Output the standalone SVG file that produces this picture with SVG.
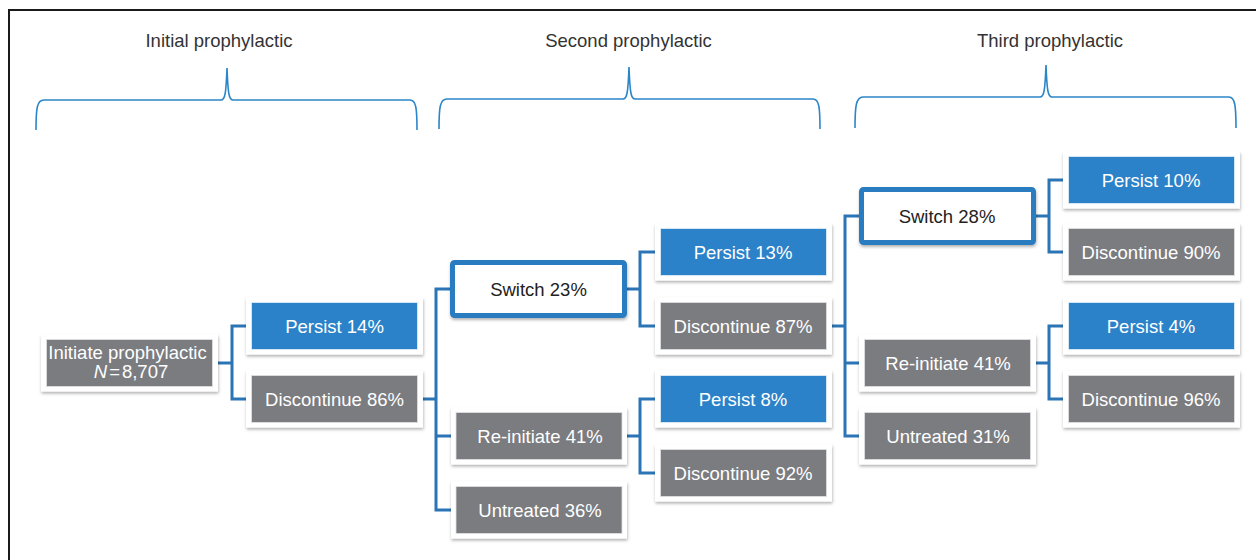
<svg xmlns="http://www.w3.org/2000/svg" width="1256" height="560" viewBox="0 0 1256 560">
<defs>
<filter id="sh" x="-10%" y="-20%" width="120%" height="150%">
<feDropShadow dx="0.5" dy="2" stdDeviation="1.4" flood-color="#000" flood-opacity="0.3"/>
</filter>
<style>
.frame{fill:#fff;filter:url(#sh)}
.blue{fill:#2b82c8;stroke:#e4eef7;stroke-width:0.8}
.gray{fill:#7b7c80;stroke:#e2e2e4;stroke-width:0.8}
.sw{fill:#fff;stroke:#2b7cc0;stroke-width:5;filter:url(#sh)}
.t{font-family:"Liberation Sans",Arial,Helvetica,sans-serif;font-size:18.5px;text-anchor:middle}
.w{fill:#fff}
.k{fill:#222}
.title{font-family:"Liberation Sans",Arial,Helvetica,sans-serif;font-size:18.5px;text-anchor:middle;fill:#333}
.brace{fill:none;stroke:#2b86c8;stroke-width:1.6}
.conn{fill:none;stroke:#2b74b6;stroke-width:3;stroke-linejoin:miter;stroke-linecap:butt}
</style>
</defs>
<rect x="0" y="0" width="1256" height="560" fill="#fff"/>
<path d="M9,560 V10 H1256" fill="none" stroke="#1a1a1a" stroke-width="2"/>

<g id="headers">
<text class="title" x="219" y="47">Initial prophylactic</text>
<text class="title" x="628.5" y="47">Second prophylactic</text>
<text class="title" x="1050" y="47">Third prophylactic</text>
<path class="brace" d="M36,130 C36,108 37,100 44,100 H221 C225,100 226,94 227,68 C228,94 229,100 233,100 H410 C416,100 417,108 417,130"/>
<path class="brace" d="M439,129 C439,107 440,99 447,99 H623 C627,99 628,93 629,67 C630,93 631,99 635,99 H813 C819,99 820,107 820,129"/>
<path class="brace" d="M855,128 C855,106 856,97 863,97 H1040 C1044,97 1045,91 1046,65 C1047,91 1048,97 1052,97 H1229 C1235,97 1236,106 1236,128"/>
</g>

<g id="connectors">
<path class="conn" d="M218,363 H232 M246,326 H232 V399 H246"/>
<path class="conn" d="M423,399 H436 M451,289 H436 V510 H451 M436,436 H451"/>
<path class="conn" d="M627,289 H640 M655,252 H640 V326 H655"/>
<path class="conn" d="M627,436 H640 M655,399 H640 V473 H655"/>
<path class="conn" d="M832,326 H845 M859,216 H845 V436 H859 M845,363 H859"/>
<path class="conn" d="M1036,216 H1049 M1063,180 H1049 V252 H1063"/>
<path class="conn" d="M1036,363 H1049 M1063,326 H1049 V399 H1063"/>
</g>

<g id="initiate">
<rect class="frame" x="41" y="334.5" width="177" height="57"/>
<rect class="gray" x="46.5" y="339.5" width="166" height="47"/>
<text class="t w" x="127.5" y="359">Initiate prophylactic</text>
<text class="t w" x="131" y="378"><tspan font-style="italic">N</tspan><tspan dx="2">=</tspan><tspan dx="2">8,707</tspan></text>
</g>

<g id="persist14">
<rect class="frame" x="246" y="297.5" width="177" height="57"/>
<rect class="blue" x="251.5" y="302.5" width="166" height="47"/>
<text class="t w" x="334.5" y="332.5">Persist 14%</text>
</g>
<g id="discontinue86">
<rect class="frame" x="246" y="370.5" width="177" height="57"/>
<rect class="gray" x="251.5" y="375.5" width="166" height="47"/>
<text class="t w" x="334.5" y="405.5">Discontinue 86%</text>
</g>

<g id="switch23">
<rect class="sw" x="452.5" y="262.5" width="172" height="53" rx="2"/>
<text class="t k" x="538.5" y="295.5">Switch 23%</text>
</g>
<g id="reinitiate41a">
<rect class="frame" x="451" y="407.5" width="176" height="57"/>
<rect class="gray" x="456" y="412.5" width="166" height="47"/>
<text class="t w" x="540" y="442.5">Re-initiate 41%</text>
</g>
<g id="untreated36">
<rect class="frame" x="451" y="481.5" width="176" height="57"/>
<rect class="gray" x="456" y="486.5" width="166" height="47"/>
<text class="t w" x="540" y="516.5">Untreated 36%</text>
</g>

<g id="persist13">
<rect class="frame" x="655" y="223.5" width="177" height="57"/>
<rect class="blue" x="660.5" y="228.5" width="166" height="47"/>
<text class="t w" x="743" y="258.5">Persist 13%</text>
</g>
<g id="discontinue87">
<rect class="frame" x="655" y="297.5" width="177" height="57"/>
<rect class="gray" x="660.5" y="302.5" width="166" height="47"/>
<text class="t w" x="743" y="332.5">Discontinue 87%</text>
</g>
<g id="persist8">
<rect class="frame" x="655" y="370.5" width="177" height="57"/>
<rect class="blue" x="660.5" y="375.5" width="166" height="47"/>
<text class="t w" x="743" y="405.5">Persist 8%</text>
</g>
<g id="discontinue92">
<rect class="frame" x="655" y="444.5" width="177" height="57"/>
<rect class="gray" x="660.5" y="449.5" width="166" height="47"/>
<text class="t w" x="743" y="479.5">Discontinue 92%</text>
</g>

<g id="switch28">
<rect class="sw" x="861.5" y="189.5" width="172" height="53" rx="2"/>
<text class="t k" x="947" y="222.5">Switch 28%</text>
</g>
<g id="reinitiate41b">
<rect class="frame" x="859" y="334.5" width="177" height="57"/>
<rect class="gray" x="864.5" y="339.5" width="166" height="47"/>
<text class="t w" x="948" y="369.5">Re-initiate 41%</text>
</g>
<g id="untreated31">
<rect class="frame" x="859" y="407.5" width="177" height="57"/>
<rect class="gray" x="864.5" y="412.5" width="166" height="47"/>
<text class="t w" x="948" y="442.5">Untreated 31%</text>
</g>

<g id="persist10">
<rect class="frame" x="1063" y="151.5" width="177" height="57"/>
<rect class="blue" x="1068.5" y="156.5" width="166" height="47"/>
<text class="t w" x="1151" y="186.5">Persist 10%</text>
</g>
<g id="discontinue90">
<rect class="frame" x="1063" y="223.5" width="177" height="57"/>
<rect class="gray" x="1068.5" y="228.5" width="166" height="47"/>
<text class="t w" x="1151" y="258.5">Discontinue 90%</text>
</g>
<g id="persist4">
<rect class="frame" x="1063" y="297.5" width="177" height="57"/>
<rect class="blue" x="1068.5" y="302.5" width="166" height="47"/>
<text class="t w" x="1151" y="332.5">Persist 4%</text>
</g>
<g id="discontinue96">
<rect class="frame" x="1063" y="370.5" width="177" height="57"/>
<rect class="gray" x="1068.5" y="375.5" width="166" height="47"/>
<text class="t w" x="1151" y="405.5">Discontinue 96%</text>
</g>
</svg>
